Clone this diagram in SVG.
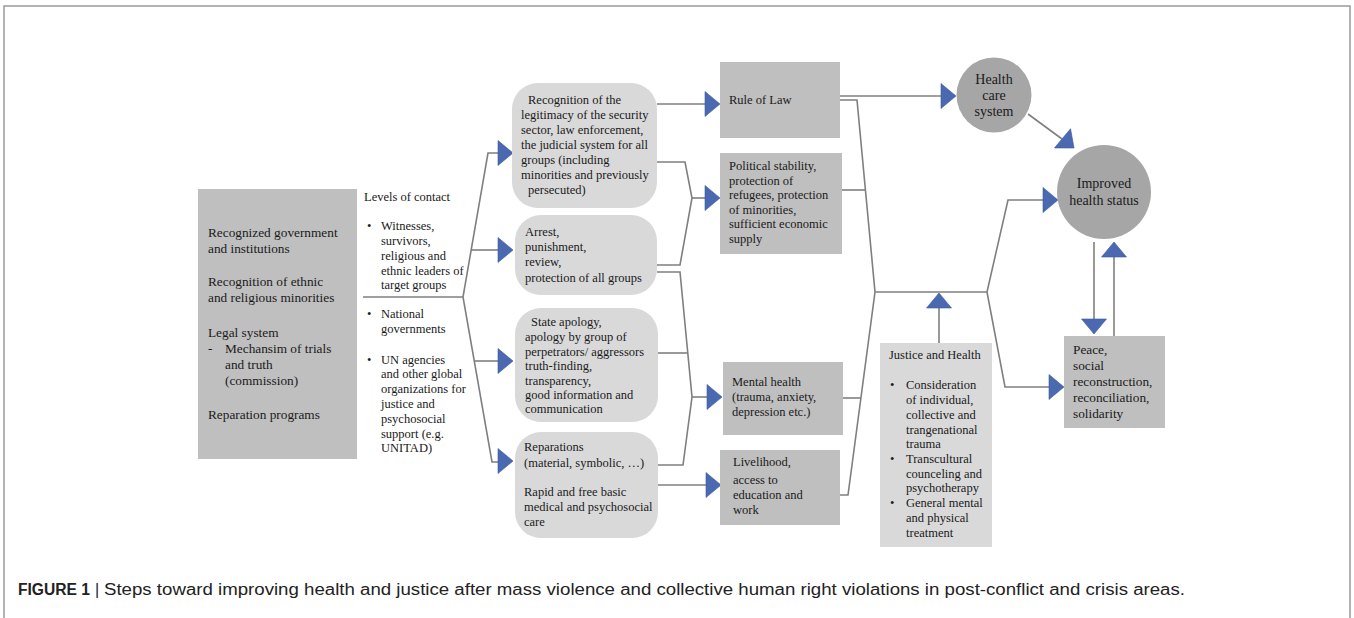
<svg xmlns="http://www.w3.org/2000/svg" xmlns:xlink="http://www.w3.org/1999/xlink" width="1354" height="618" viewBox="0 0 1354 618">
<defs>
<style>
.t{font-family:"Liberation Serif","Times New Roman",serif;font-size:12.5px;fill:#1a1a1a}
.tl{font-family:"Liberation Serif","Times New Roman",serif;font-size:13.3px;fill:#1a1a1a}
.tc{font-family:"Liberation Serif","Times New Roman",serif;font-size:14px;fill:#1a1a1a}
.c{stroke:#7f7f7f;stroke-width:1.6;fill:none}
.box{fill:#bfbfbf}
.rbox{fill:#d9d9d9}
.circ{fill:#a6a6a6}
.cap{font-family:"Liberation Sans",Arial,sans-serif;font-size:16px;fill:#222}
</style>
<path id="ar" d="M0,0 L-15,-12.5 L-15,12.5 Z" fill="#4a69b0" stroke="#3d5a9c" stroke-width="0.6"/>
</defs>
<rect x="4" y="6" width="1346" height="640" fill="#fff" stroke="#9a9a9a" stroke-width="1.5"/>

<g id="connectors">
<line class="c" x1="363" y1="297" x2="463" y2="297"/>
<polyline class="c" points="498,153 488,153 463,297 492,462 498,462"/>
<line class="c" x1="471" y1="250" x2="498" y2="250"/>
<line class="c" x1="474" y1="361" x2="498" y2="361"/>
<line class="c" x1="657" y1="104" x2="705" y2="104"/>
<polyline class="c" points="657,162 685,162 692,198 680,265 657,265"/>
<line class="c" x1="692" y1="198" x2="705" y2="198"/>
<polyline class="c" points="657,272 680,272 692,397 683,465 657,465"/>
<line class="c" x1="657" y1="353" x2="688" y2="353"/>
<line class="c" x1="692" y1="397" x2="707" y2="397"/>
<line class="c" x1="657" y1="485" x2="706" y2="485"/>
<line class="c" x1="840" y1="96" x2="941" y2="96"/>
<polyline class="c" points="840,100 857,100 875,292 848,495 840,495"/>
<line class="c" x1="842" y1="190" x2="865" y2="190"/>
<line class="c" x1="843" y1="398" x2="861" y2="398"/>
<line class="c" x1="875" y1="292" x2="987" y2="292"/>
<polyline class="c" points="987,292 1008,200 1043,200"/>
<polyline class="c" points="987,292 1005,387 1049,387"/>
<line class="c" x1="939" y1="343" x2="939" y2="307"/>
<line class="c" x1="1028" y1="114" x2="1062" y2="139"/>
<line class="c" x1="1094" y1="242" x2="1094" y2="319"/>
<line class="c" x1="1114" y1="336" x2="1114" y2="256"/>
<use xlink:href="#ar" transform="translate(513,153)"/>
<use xlink:href="#ar" transform="translate(513,250)"/>
<use xlink:href="#ar" transform="translate(513,361)"/>
<use xlink:href="#ar" transform="translate(513,461)"/>
<use xlink:href="#ar" transform="translate(720,104)"/>
<use xlink:href="#ar" transform="translate(720,198)"/>
<use xlink:href="#ar" transform="translate(722,397)"/>
<use xlink:href="#ar" transform="translate(721,485)"/>
<use xlink:href="#ar" transform="translate(956,96)"/>
<use xlink:href="#ar" transform="translate(1058,200)"/>
<use xlink:href="#ar" transform="translate(1064,387)"/>
<use xlink:href="#ar" transform="translate(939,293) rotate(-90)"/>
<use xlink:href="#ar" transform="translate(1074,148) rotate(40)"/>
<use xlink:href="#ar" transform="translate(1094,334) rotate(90)"/>
<use xlink:href="#ar" transform="translate(1114,242) rotate(-90)"/>
</g>

<g id="left-box">
<rect class="box" x="198" y="189" width="159" height="270" fill="#c3c3c3"/>
<text class="tl" x="208" y="237">Recognized government</text>
<text class="tl" x="208" y="253">and institutions</text>
<text class="tl" x="208" y="286">Recognition of ethnic</text>
<text class="tl" x="208" y="302">and religious minorities</text>
<text class="tl" x="208" y="337">Legal system</text>
<text class="tl" x="208" y="353">-</text>
<text class="tl" x="225" y="353">Mechansim of trials</text>
<text class="tl" x="225" y="369">and truth</text>
<text class="tl" x="225" y="385">(commission)</text>
<text class="tl" x="208" y="419">Reparation programs</text>
</g>

<g id="levels">
<text class="t" x="364" y="201">Levels of contact</text>
<text class="t" x="367" y="230">•</text>
<text class="t" x="381" y="230">Witnesses,</text>
<text class="t" x="381" y="245">survivors,</text>
<text class="t" x="381" y="260">religious and</text>
<text class="t" x="381" y="275">ethnic leaders of</text>
<text class="t" x="381" y="289">target groups</text>
<text class="t" x="367" y="318">•</text>
<text class="t" x="381" y="318">National</text>
<text class="t" x="381" y="333">governments</text>
<text class="t" x="367" y="364">•</text>
<text class="t" x="381" y="364">UN  agencies</text>
<text class="t" x="381" y="378">and other global</text>
<text class="t" x="381" y="393">organizations for</text>
<text class="t" x="381" y="408">justice and</text>
<text class="t" x="381" y="423">psychosocial</text>
<text class="t" x="381" y="438">support (e.g.</text>
<text class="t" x="381" y="452">UNITAD)</text>
</g>

<g id="recognition">
<rect class="rbox" x="512" y="83" width="145" height="125" rx="26"/>
<text class="t" x="528" y="104">Recognition of the</text>
<text class="t" x="521" y="119">legitimacy  of the security</text>
<text class="t" x="521" y="134">sector, law enforcement,</text>
<text class="t" x="521" y="149">the judicial system for all</text>
<text class="t" x="521" y="164">groups (including</text>
<text class="t" x="521" y="179">minorities and previously</text>
<text class="t" x="528" y="194">persecuted)</text>
</g>

<g id="arrest">
<rect class="rbox" x="515" y="215" width="142" height="80" rx="26"/>
<text class="t" x="525" y="236">Arrest,</text>
<text class="t" x="525" y="251">punishment,</text>
<text class="t" x="525" y="266">review,</text>
<text class="t" x="525" y="282">protection of all  groups</text>
</g>

<g id="apology">
<rect class="rbox" x="515" y="308" width="143" height="114" rx="26"/>
<text class="t" x="531" y="326">State apology,</text>
<text class="t" x="525" y="341">apology by group of</text>
<text class="t" x="525" y="356">perpetrators/ aggressors</text>
<text class="t" x="525" y="370">truth-finding,</text>
<text class="t" x="525" y="385">transparency,</text>
<text class="t" x="525" y="399">good information  and</text>
<text class="t" x="525" y="413">communication</text>
</g>

<g id="reparations">
<rect class="rbox" x="515" y="432" width="143" height="106" rx="26"/>
<text class="t" x="524" y="451">Reparations</text>
<text class="t" x="524" y="467">(material,  symbolic, …)</text>
<text class="t" x="524" y="496">Rapid and free basic</text>
<text class="t" x="524" y="511">medical and psychosocial</text>
<text class="t" x="524" y="526">care</text>
</g>

<g id="rule-of-law">
<rect class="box" x="720" y="62" width="120" height="76"/>
<text class="t" x="729" y="104">Rule  of Law</text>
</g>

<g id="political">
<rect class="box" x="720" y="153" width="122" height="101"/>
<text class="t" x="729" y="170">Political  stability,</text>
<text class="t" x="729" y="185">protection of</text>
<text class="t" x="729" y="199">refugees, protection</text>
<text class="t" x="729" y="214">of minorities,</text>
<text class="t" x="729" y="228">sufficient  economic</text>
<text class="t" x="729" y="243">supply</text>
</g>

<g id="mental">
<rect class="box" x="723" y="362" width="120" height="73"/>
<text class="t" x="732" y="386">Mental health</text>
<text class="t" x="732" y="401">(trauma,  anxiety,</text>
<text class="t" x="732" y="416">depression etc.)</text>
</g>

<g id="livelihood">
<rect class="box" x="720" y="450" width="120" height="75"/>
<text class="t" x="733" y="466">Livelihood,</text>
<text class="t" x="733" y="484">access to</text>
<text class="t" x="733" y="499">education and</text>
<text class="t" x="733" y="514">work</text>
</g>

<g id="health-care">
<circle class="circ" cx="994" cy="95" r="37.5"/>
<text class="tc" x="994" y="84" text-anchor="middle">Health</text>
<text class="tc" x="994" y="100" text-anchor="middle">care</text>
<text class="tc" x="994" y="116" text-anchor="middle">system</text>
</g>

<g id="improved">
<circle class="circ" cx="1104" cy="192" r="47"/>
<text class="tc" x="1104" y="188" text-anchor="middle">Improved</text>
<text class="tc" x="1104" y="205" text-anchor="middle">health status</text>
</g>

<g id="justice">
<rect class="rbox" x="880" y="343" width="112" height="204"/>
<text class="t" x="889" y="359">Justice and Health</text>
<text class="t" x="890" y="389">•</text>
<text class="t" x="906" y="389">Consideration</text>
<text class="t" x="906" y="404">of individual,</text>
<text class="t" x="906" y="419">collective and</text>
<text class="t" x="906" y="434">trangenational</text>
<text class="t" x="906" y="448">trauma</text>
<text class="t" x="890" y="463">•</text>
<text class="t" x="906" y="463">Transcultural</text>
<text class="t" x="906" y="478">counceling and</text>
<text class="t" x="906" y="492">psychotherapy</text>
<text class="t" x="890" y="507">•</text>
<text class="t" x="906" y="507">General  mental</text>
<text class="t" x="906" y="522">and physical</text>
<text class="t" x="906" y="537">treatment</text>
</g>

<g id="peace">
<rect class="box" x="1064" y="336" width="101" height="92"/>
<text class="tl" x="1073" y="354">Peace,</text>
<text class="tl" x="1073" y="370">social</text>
<text class="tl" x="1073" y="386">reconstruction,</text>
<text class="tl" x="1073" y="402">reconciliation,</text>
<text class="tl" x="1073" y="418">solidarity</text>
</g>

<g id="caption">
<text class="cap" x="18" y="595" font-weight="bold" textLength="72" lengthAdjust="spacingAndGlyphs">FIGURE 1</text>
<text class="cap" x="95" y="595">|</text>
<text class="cap" x="104" y="595" textLength="1081" lengthAdjust="spacingAndGlyphs">Steps toward improving health and justice after mass violence and collective human right violations in post-conflict and crisis areas.</text>
</g>
</svg>
